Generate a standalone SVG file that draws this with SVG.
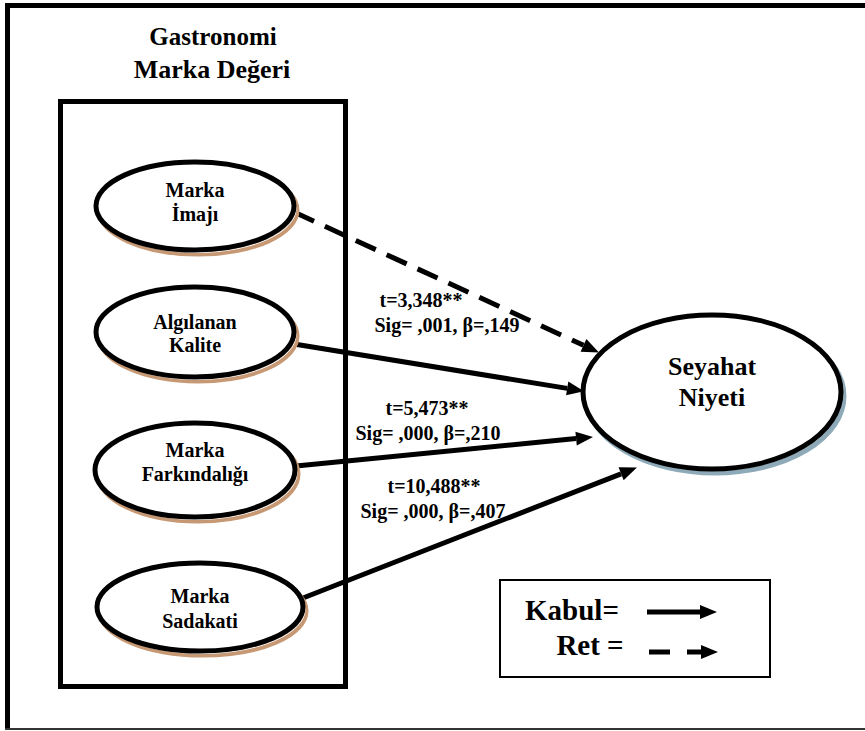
<svg xmlns="http://www.w3.org/2000/svg" width="865" height="731" viewBox="0 0 865 731">
<style>
text{font-family:"Liberation Serif","Times New Roman",serif;font-weight:bold;fill:#000;text-anchor:middle}
.node{font-size:20px}
.lbl{font-size:20px}
.sh{fill:#fff;stroke:#c69873;stroke-width:5}
.shw{fill:none;stroke:#fff;stroke-width:1}
.el{fill:#fff;stroke:#000;stroke-width:5}
.con{stroke:#000;stroke-width:5;fill:none}
</style>
<defs>
<marker id="ah" markerUnits="userSpaceOnUse" markerWidth="18" markerHeight="16" refX="0" refY="7" orient="auto" overflow="visible">
<path d="M0,0 L17,7 L0,14 z" fill="#000"/>
</marker>
</defs>
<rect x="0" y="0" width="865" height="731" fill="#fff"/>
<g id="frame">
<path d="M7.5,729 V5.5 H865" fill="none" stroke="#000" stroke-width="5"/>
<line x1="5" y1="729" x2="865" y2="729" stroke="#333" stroke-width="2"/>
</g>
<g id="group-box">
<rect x="60.5" y="101.5" width="285" height="585" fill="none" stroke="#000" stroke-width="5"/>
<text x="213" y="45" style="font-size:25px">Gastronomi</text>
<text x="212" y="78" style="font-size:26px">Marka Değeri</text>
</g>
<g id="connectors">
<line class="con" x1="294" y1="212" x2="583.5" y2="345.3" stroke-dasharray="22 12" marker-end="url(#ah)"/>
<line class="con" x1="294" y1="344" x2="567.2" y2="388.4" marker-end="url(#ah)"/>
<line class="con" x1="296" y1="466" x2="576.1" y2="438.6" marker-end="url(#ah)"/>
<line class="con" x1="303" y1="598" x2="621.1" y2="473.8" marker-end="url(#ah)"/>
</g>
<g id="labels" class="lbl">
<text x="421" y="307" class="lbl">t=3,348**</text>
<text x="447" y="332" class="lbl">Sig= ,001, β=,149</text>
<text x="427" y="415" class="lbl">t=5,473**</text>
<text x="428" y="440" class="lbl">Sig= ,000, β=,210</text>
<text x="434" y="493" class="lbl">t=10,488**</text>
<text x="433" y="518" class="lbl">Sig= ,000, β=,407</text>
</g>
<g id="marka-imaji">
<ellipse class="sh" cx="198" cy="210" rx="99" ry="44"/>
<ellipse class="shw" cx="197" cy="208.5" rx="99" ry="44"/>
<ellipse class="el" cx="195" cy="206" rx="99" ry="44"/>
<text class="node" x="195" y="197">Marka</text>
<text class="node" x="195" y="221">İmajı</text>
</g>
<g id="algilanan-kalite">
<ellipse class="sh" cx="198" cy="336" rx="99" ry="45"/>
<ellipse class="shw" cx="197" cy="334.5" rx="99" ry="45"/>
<ellipse class="el" cx="195" cy="332" rx="99" ry="45"/>
<text class="node" x="195" y="329">Algılanan</text>
<text class="node" x="195" y="352">Kalite</text>
</g>
<g id="marka-farkindaligi">
<ellipse class="sh" cx="198" cy="474" rx="100" ry="47"/>
<ellipse class="shw" cx="197" cy="472.5" rx="100" ry="47"/>
<ellipse class="el" cx="195" cy="470" rx="100" ry="47"/>
<text class="node" x="195" y="457">Marka</text>
<text class="node" x="195" y="481">Farkındalığı</text>
</g>
<g id="marka-sadakati">
<ellipse class="sh" cx="203" cy="611" rx="103" ry="44"/>
<ellipse class="shw" cx="202" cy="609.5" rx="103" ry="44"/>
<ellipse class="el" cx="200" cy="607" rx="103" ry="44"/>
<text class="node" x="200" y="603">Marka</text>
<text class="node" x="200" y="628">Sadakati</text>
</g>
<g id="seyahat-niyeti">
<ellipse cx="715" cy="396" rx="129" ry="77" fill="#fff" stroke="#8eaab8" stroke-width="5"/>
<ellipse cx="712" cy="392" rx="129" ry="77" class="el"/>
<text x="712" y="375" style="font-size:26px">Seyahat</text>
<text x="712" y="406" style="font-size:26px">Niyeti</text>
</g>
<g id="legend">
<rect x="500" y="580" width="270" height="97" fill="none" stroke="#000" stroke-width="2"/>
<text x="572" y="620" style="font-size:29px">Kabul=</text>
<text x="590" y="655" style="font-size:29px">Ret =</text>
<line class="con" x1="647" y1="612" x2="700" y2="612" marker-end="url(#ah)"/>
<line class="con" x1="649" y1="652" x2="670" y2="652"/>
<line class="con" x1="687" y1="652" x2="701" y2="652" marker-end="url(#ah)"/>
</g>
</svg>
